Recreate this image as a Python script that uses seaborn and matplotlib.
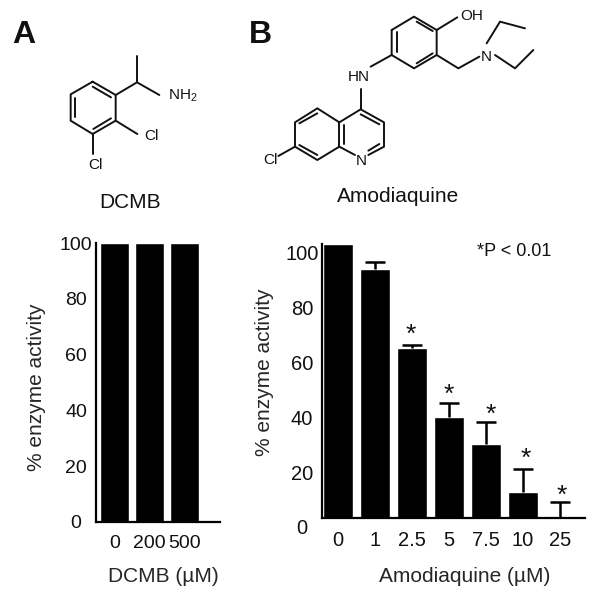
import matplotlib
matplotlib.use('Agg')
import matplotlib.pyplot as plt
from matplotlib.transforms import ScaledTranslation
import numpy as np
import seaborn as sns

## values
dcmb_doses = ['0', '200', '500']
dcmb_activity = [100, 100, 100]

amod_doses = ['0', '1', '2.5', '5', '7.5', '10', '25']
amod_activity = [100, 91, 62, 37, 27, 9.5, 0]
amod_err = [0, 2.5, 1.2, 5, 8, 8.4, 5.8]
amod_signif = [False, False, True, True, True, True, True]

y_ticks = [0, 20, 40, 60, 80, 100]

W, H = 600, 591

sns.set_style('white')
plt.rcParams['font.family'] = ['Liberation Sans', 'DejaVu Sans']
plt.rcParams['text.color'] = '#111111'


def px_axes(fig, left, right, top, bottom):
	return fig.add_axes([left/W, 1 - bottom/H, (right-left)/W, (bottom-top)/H])


def style_axes(ax, size):
	sns.despine(ax=ax)
	for side in ['left', 'bottom']:
		ax.spines[side].set_linewidth(1.6)
		ax.spines[side].set_color('black')
	ax.set_ylim(0, 100)
	ax.set_yticks(y_ticks)
	ax.tick_params(axis='both', length=0, labelsize=size, labelcolor='#111111')
	ax.tick_params(axis='y', pad=14.4)
	ax.tick_params(axis='x', pad=9)
	for lab in ax.get_yticklabels():
		lab.set_ha('center')


fig = plt.figure(figsize=(W/100, H/100), dpi=100)

## Panel A
ax_a = px_axes(fig, 96, 220, 243, 522)
sns.barplot(x=dcmb_doses, y=dcmb_activity, color='black', saturation=1, width=.84, errorbar=None, ax=ax_a)
ax_a.set_xlim(-.53, 3.01)
style_axes(ax_a, 14)
ax_a.set_ylabel('% enzyme activity', fontsize=15, va='center')
ax_a.yaxis.set_label_coords(-.476, .484)
ax_a.set_xlabel('DCMB (µM)', fontsize=15, va='center')
ax_a.xaxis.set_label_coords(.54, -.194)

## Panel B
ax_b = px_axes(fig, 322, 585, 244, 518)
sns.barplot(x=amod_doses, y=amod_activity, color='black', saturation=1, width=.81, errorbar=None, ax=ax_b)
xs = np.arange(len(amod_doses))
has_err = np.array(amod_err) > 0
_, caps, _ = ax_b.errorbar(xs[has_err], np.array(amod_activity)[has_err],
						   yerr=[np.zeros(has_err.sum()), np.array(amod_err)[has_err]],
						   fmt='none', ecolor='black', elinewidth=1.8, capsize=7.5, capthick=1.8)
caps[0].set_visible(False)  ## only the upper half of each bar is shown
ax_b.set_xlim(-.43, 6.68)
style_axes(ax_b, 14.5)
ax_b.set_ylabel('% enzyme activity', fontsize=15, va='center')
ax_b.yaxis.set_label_coords(-.217, .533)
ax_b.set_xlabel('Amodiaquine (µM)', fontsize=15, va='center')
ax_b.xaxis.set_label_coords(.544, -.212)

## tick labels in B sit a little under their true height in the original
shift = ScaledTranslation(0, -9/100, fig.dpi_scale_trans)
for lab in ax_b.get_yticklabels():
	lab.set_transform(lab.get_transform() + shift)

## significance stars
star_nudge = [(0, 0), (0, 0), (-1, 3), (-.5, 1), (4.5, 0), (3, 3), (2, -1)]
for i, flag in enumerate(amod_signif):
	if flag:
		ax_b.annotate('*', (i, amod_activity[i] + amod_err[i]), xytext=star_nudge[i],
					  textcoords='offset pixels', ha='center', va='baseline', fontsize=19)

## overlay in image pixels for panel letters and the two structures
ov = fig.add_axes([0, 0, 1, 1], zorder=5)
ov.set_xlim(0, W)
ov.set_ylim(H, 0)
ov.axis('off')
ov.patch.set_alpha(0)


def bonds(segments, x0, y0):
	## segments are given in 3x zoom pixels
	for seg in segments:
		p = np.array(seg) / 3.
		ov.plot(p[:, 0] + x0, p[:, 1] + y0, color='#111111', lw=1.4, solid_capstyle='round')


def atom(x, y, s, size=11, ha='center'):
	ov.text(x, y, s, fontsize=size, ha=ha, va='center')


dcmb_bonds = [
	[(278, 245), (347, 285), (347, 362), (278, 402), (212, 362), (212, 283), (278, 245)],
	[(278, 260), (333, 292)], [(333, 355), (280, 387)], [(226, 352), (226, 293)],
	[(347, 285), (411, 247), (478, 285)], [(411, 247), (411, 168)],
	[(347, 362), (412, 402)], [(278, 402), (278, 462)],
]
bonds(dcmb_bonds, 0, 0)
atom(503/3, 287/3, 'NH$_{\\mathregular{2}}$', ha='left')
atom(453/3, 407/3, 'Cl')
atom(286/3, 495/3, 'Cl')
ov.text(130, 203, 'DCMB', fontsize=15, ha='center', va='center')

amod_bonds = [
	[(455, 90), (522, 50), (590, 90), (590, 165), (522, 205), (455, 165), (455, 90)],
	[(530, 65), (578, 93)], [(470, 97), (470, 157)], [(530, 190), (578, 160)],
	[(590, 90), (652, 52)], [(590, 165), (655, 205), (718, 170)],
	[(740, 130), (780, 65), (855, 85)], [(765, 165), (825, 205), (880, 150)],
	[(455, 165), (392, 200)], [(362, 268), (362, 328)],
	[(298, 367), (362, 328), (432, 367), (432, 440), (385, 465)], [(345, 465), (298, 440)],
	[(298, 367), (298, 440)], [(362, 343), (418, 373)], [(418, 432), (385, 452)], [(312, 375), (312, 432)],
	[(298, 367), (232, 325), (165, 367), (165, 440), (232, 480), (298, 440)],
	[(232, 340), (178, 370)], [(178, 435), (232, 465)], [(165, 440), (115, 468)],
]
bonds(amod_bonds, 240, 0)
atom(240 + 662/3, 48/3, 'OH', ha='left')
atom(240 + 740/3, 170/3, 'N')
atom(240 + 355/3, 230/3, 'HN')
atom(240 + 363/3, 483/3, 'N')
atom(240 + 90/3, 480/3, 'Cl')
ov.text(398, 197, 'Amodiaquine', fontsize=15, ha='center', va='center')

ov.text(24, 35, 'A', fontsize=23, fontweight='bold', ha='center', va='center')
ov.text(260, 35, 'B', fontsize=23, fontweight='bold', ha='center', va='center')
ov.text(514, 252, '*P < 0.01', fontsize=13, ha='center', va='center')

fig.savefig('out.png', dpi=100)
